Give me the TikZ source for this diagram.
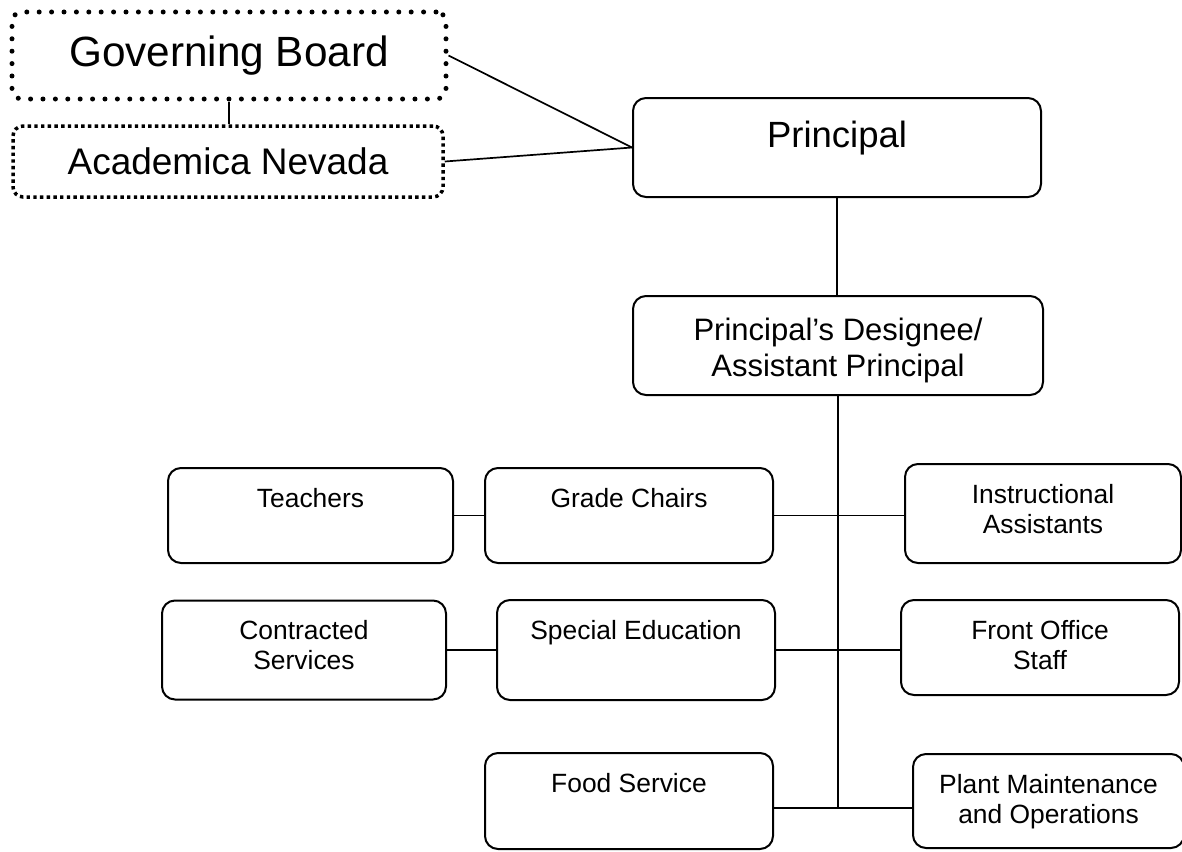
\documentclass[tikz,border=0pt]{standalone}
\usepackage{fontspec}
\setmainfont{Liberation Sans}

\tikzset{
	unit/.style={draw, rounded corners=13pt, line width=2pt, inner sep=0pt},
	lbl/.style={anchor=base, inner sep=0pt, align=center, yshift=-40pt, font=\fontsize{26.4}{30}\selectfont},
	lbltwo/.style={lbl, yshift=-30pt},
	link/.style={line width=1.7pt},
	board/.style={draw, rounded corners=10pt, line width=5pt, line cap=round, dash pattern=on 0pt off 12.4pt},
	office/.style={draw, rounded corners=10pt, line width=3.5pt, dash pattern=on 3.4pt off 3.3pt}
}

\begin{document}
\begin{tikzpicture}[x=1pt, y=-1pt]
		\useasboundingbox (0,0) rectangle (1182,851);

		\node[board, minimum width=434, minimum height=87, font=\fontsize{42.3}{50}\selectfont] (gb) at (229,55.5) {Governing Board};
		\node[office, minimum width=430, minimum height=71, font=\fontsize{37}{44}\selectfont] (an) at (228,161.5) {Academica Nevada};

		\node[unit, minimum width=408, minimum height=99, label={[lbl, yshift=-10pt, font=\fontsize{36.5}{44}\selectfont]north:Principal}] (pr) at (837,147.5) {};
		\node[unit, minimum width=410, minimum height=99, label={[lbl, yshift=-41pt, font=\fontsize{31}{36}\selectfont]north:{Principal’s Designee/\\Assistant Principal}}] (pd) at (838,345.5) {};

		\node[unit, minimum width=285, minimum height=95, label={[lbl]north:Teachers}] (tch) at (310.5,515.5) {};
		\node[unit, minimum width=288, minimum height=95, label={[lbl]north:Grade Chairs}] (gc) at (629,515.5) {};
		\node[unit, minimum width=276, minimum height=99, label={[lbltwo]north:{Instructional\\Assistants}}] (ia) at (1043,513.5) {};

		\node[unit, minimum width=284, minimum height=99, label={[lbltwo]north:{Contracted\\Services}}] (cs) at (304,650) {};
		\node[unit, minimum width=278, minimum height=100, label={[lbl]north:Special Education}] (se) at (636,650) {};
		\node[unit, minimum width=278, minimum height=95, label={[lbltwo]north:{Front Office\\Staff}}] (fo) at (1040,647.5) {};

		\node[unit, minimum width=288, minimum height=96, label={[lbl]north:Food Service}] (fs) at (629,801) {};
		\node[unit, minimum width=271, minimum height=94, label={[lbltwo]north:{Plant Maintenance\\and Operations}}] (pm) at (1048.5,801) {};

		\coordinate (tb) at (838,808);

		\draw[link] (gb.south) -- (gb.south |- an.north);
		\draw[link] (gb.east) -- (pr.west);
		\draw[link] (an.east) -- (pr.west);
		\draw[link] (pr.south) -- (pr.south |- pd.north);
		\draw[link] (pd.south) -- (tb);

		\draw[link] (tch.east) -- (gc.west);
		\draw[link] (gc.east) -- (gc.east -| ia.west);
		\draw[link] (cs.east) -- (se.west);
		\draw[link] (se.east) -- (se.east -| fo.west);
		\draw[link] (fs.east |- tb) -- (pm.west |- tb);
	\end{tikzpicture}
\end{document}
